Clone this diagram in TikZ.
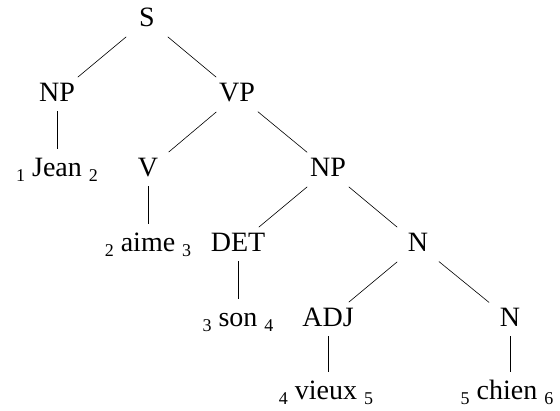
\documentclass[tikz,border=0pt]{standalone}
\usepackage{fontspec}
\setmainfont{LiberationSerif}[Extension=.ttf, UprightFont=*-Regular, BoldFont=*-Bold, ItalicFont=*-Italic, BoldItalicFont=*-BoldItalic]
\newcommand\ix[1]{\raisebox{-5pt}{\fontsize{18}{18}\selectfont #1}}
\begin{document}
\begin{tikzpicture}[x=1pt,y=-1pt,
  lab/.style={anchor=base, font=\rmfamily\fontsize{28}{28}\selectfont, inner sep=0pt, text height=19pt, text depth=4pt},
  diag/.style={line width=0.6pt, shorten <=27pt, shorten >=27pt},
  vert/.style={line width=0.6pt, shorten <=17pt, shorten >=20pt}]
\useasboundingbox (0,0) rectangle (560,411);
\node[lab] (S) at (147,27) {S};
\node[lab] (NP) at (57,102) {NP};
\node[lab] (VP) at (237,102) {VP};
\node[lab] (Jean) at (57,177) {\ix{1} Jean \ix{2}};
\node[lab] (V) at (148,177) {V};
\node[lab] (NP2) at (328,177) {NP};
\node[lab] (aime) at (148,252) {\ix{2} aime \ix{3}};
\node[lab] (DET) at (238,252) {DET};
\node[lab] (N1) at (418,252) {N};
\node[lab] (son) at (238,327) {\ix{3} son \ix{4}};
\node[lab] (ADJ) at (328,327) {ADJ};
\node[lab] (N2) at (510,327) {N};
\node[lab] (vieux) at (326,400) {\ix{4} vieux \ix{5}};
\node[lab] (chien) at (507,400) {\ix{5} chien \ix{6}};
\draw[diag] (S.center) -- (NP.center);
\draw[diag] (S.center) -- (VP.center);
\draw[diag] (VP.center) -- (V.center);
\draw[diag] (VP.center) -- (NP2.center);
\draw[diag] (NP2.center) -- (DET.center);
\draw[diag] (NP2.center) -- (N1.center);
\draw[diag] (N1.center) -- (ADJ.center);
\draw[diag] (N1.center) -- (N2.center);
\draw[vert] (NP.center) -- (NP.center |- Jean.center);
\draw[vert] (V.center) -- (V.center |- aime.center);
\draw[vert] (DET.center) -- (DET.center |- son.center);
\draw[vert] (ADJ.center) -- (ADJ.center |- vieux.center);
\draw[vert] (N2.center) -- (N2.center |- chien.center);
\end{tikzpicture}
\end{document}
